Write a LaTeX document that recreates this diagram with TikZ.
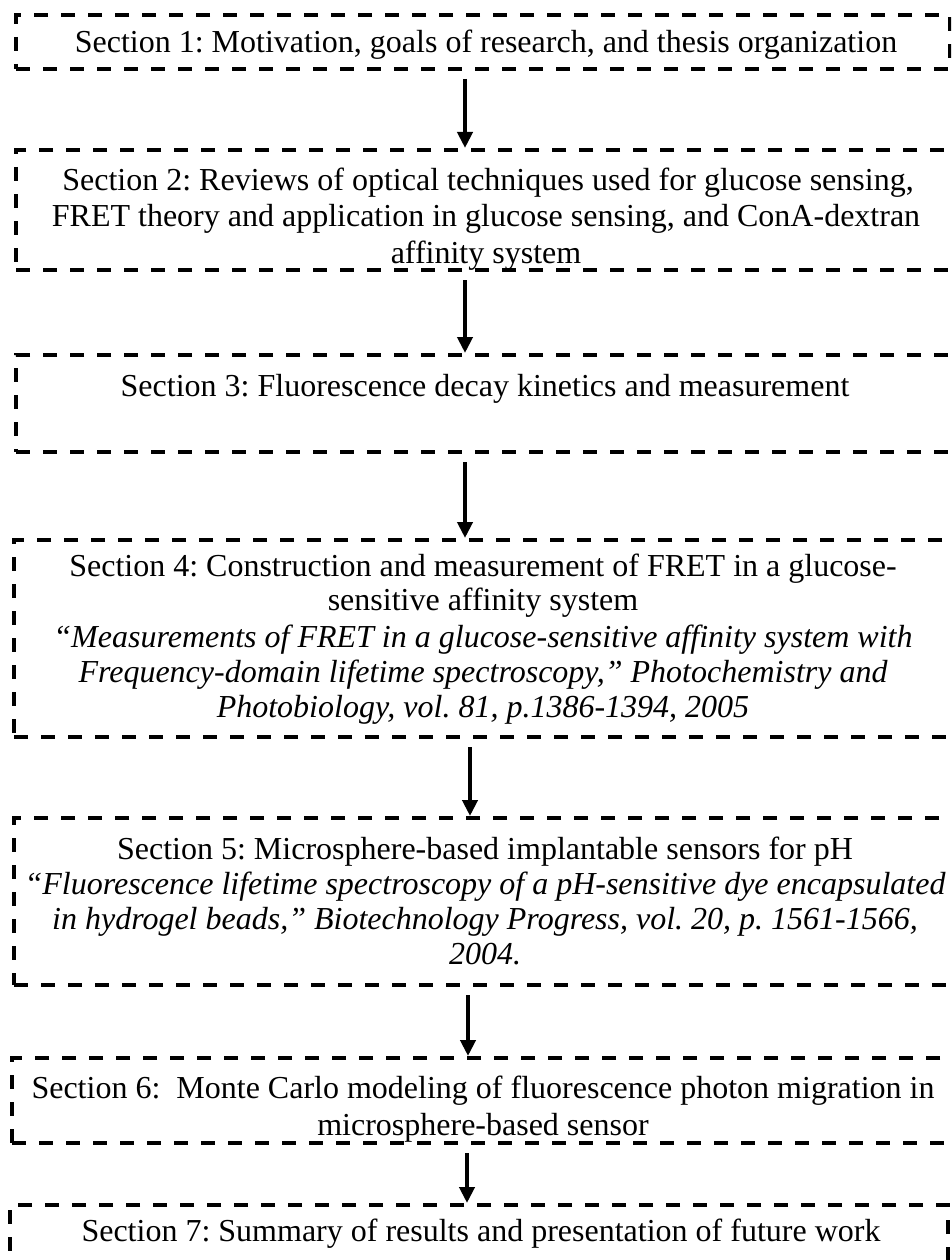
\documentclass[tikz,border=0pt]{standalone}
\usepackage{fontspec}
\setmainfont{Liberation Serif}
\usetikzlibrary{arrows.meta}
\frenchspacing
\begin{document}
\begin{tikzpicture}[x=1pt,y=-1pt,
  sbox/.style={draw, line width=4pt, dash pattern=on 14pt off 13pt, inner sep=0pt, outer sep=0pt, anchor=north west},
  txt/.style={anchor=base, font=\fontsize{32}{35}\selectfont, inner sep=0pt},
  itxt/.style={txt, font=\fontsize{32}{35}\selectfont\itshape},
  arr/.style={line width=4pt, -{Triangle[width=15pt,length=16pt]}, shorten <=10pt, shorten >=2pt}]
\useasboundingbox (0,0) rectangle (951,1260);
\clip (0,0) rectangle (951,1260);
% boxes
\node[sbox, minimum width=934pt, minimum height=54pt]  (b1) at (16,15)   {};
\node[sbox, minimum width=944pt, minimum height=120pt] (b2) at (16,150)  {};
\node[sbox, minimum width=944pt, minimum height=97pt]  (b3) at (16,355)  {};
\node[sbox, minimum width=946pt, minimum height=197pt] (b4) at (14,540)  {};
\node[sbox, minimum width=946pt, minimum height=167pt] (b5) at (14,818)  {};
\node[sbox, minimum width=948pt, minimum height=85pt]  (b6) at (12,1058) {};
\node[sbox, minimum width=938pt, minimum height=90pt]  (b7) at (10,1205) {};
% texts
\node[txt] (t1) at (486,53) {Section 1: Motivation, goals of research, and thesis organization};
\begin{scope}
\clip (b2.north west) rectangle (b2.south east);
\node[txt] (t2a) at (488,191) {Section 2: Reviews of optical techniques used for glucose sensing,};
\node[txt] (t2b) at (486,226) {FRET theory and application in glucose sensing, and ConA-dextran};
\node[txt] (t2c) at (486,263) {affinity system};
\end{scope}
\node[txt] (t3) at (485,396) {Section 3: Fluorescence decay kinetics and measurement};
\node[txt] (t4a) at (483,576) {Section 4: Construction and measurement of FRET in a glucose-};
\node[txt] (t4b) at (483,610) {sensitive affinity system};
\node[itxt] (t4c) at (483,647) {“Measurements of FRET in a glucose-sensitive affinity system with};
\node[itxt] (t4d) at (483,682) {Frequency-domain lifetime spectroscopy,” Photochemistry and};
\node[itxt] (t4e) at (483,717) {Photobiology, vol. 81, p.1386-1394, 2005};
\node[txt] (t5a) at (485,859) {Section 5: Microsphere-based implantable sensors for pH};
\node[itxt] (t5b) at (485,894) {“Fluorescence lifetime spectroscopy of a pH-sensitive dye encapsulated};
\node[itxt] (t5c) at (485,929) {in hydrogel beads,” Biotechnology Progress, vol. 20, p. 1561-1566,};
\node[itxt] (t5d) at (485,964) {2004.};
\begin{scope}
\clip (b6.north west) rectangle (b6.south east);
\node[txt] (t6a) at (483,1098) {Section 6:\ \ Monte Carlo modeling of fluorescence photon migration in};
\node[txt] (t6b) at (483,1135) {microsphere-based sensor};
\end{scope}
\node[txt] (t7) at (481,1241) {Section 7: Summary of results and presentation of future work};
% arrows
\coordinate (x1) at (465,0);
\coordinate (x2) at (465,0);
\coordinate (x3) at (465,0);
\coordinate (x4) at (470,0);
\coordinate (x5) at (468,0);
\coordinate (x6) at (467,0);
\draw[arr] (b1.south -| x1) -- (b2.north -| x1);
\draw[arr] (b2.south -| x2) -- (b3.north -| x2);
\draw[arr] (b3.south -| x3) -- (b4.north -| x3);
\draw[arr] (b4.south -| x4) -- (b5.north -| x4);
\draw[arr] (b5.south -| x5) -- (b6.north -| x5);
\draw[arr] (b6.south -| x6) -- (b7.north -| x6);
\end{tikzpicture}
\end{document}
